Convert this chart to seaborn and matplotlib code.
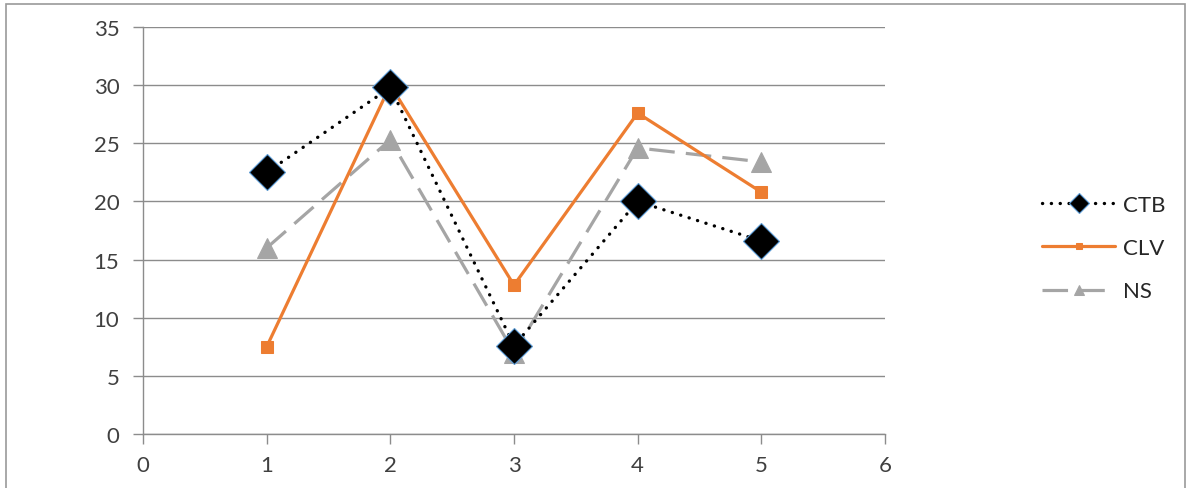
import matplotlib
matplotlib.use("Agg")
import matplotlib.pyplot as plt
from matplotlib.patches import Rectangle
import seaborn as sns
import pandas as pd

# Series values
x_vals = [1, 2, 3, 4, 5]
ctb = [22.5, 29.8, 7.6, 20.0, 16.6]
clv = [7.5, 30.0, 12.8, 27.6, 20.8]
ns = [16.0, 25.3, 7.0, 24.6, 23.4]
series_names = ["CTB", "CLV", "NS"]
x_ticks = [0, 1, 2, 3, 4, 5, 6]
y_ticks = [0, 5, 10, 15, 20, 25, 30, 35]

sns.set_theme(style="white")
plt.rcParams["font.family"] = ["Lato", "DejaVu Sans"]

df = pd.DataFrame({"x": x_vals, "CTB": ctb, "CLV": clv, "NS": ns})

fig = plt.figure(figsize=(11.86, 4.89), dpi=100)
ax = fig.add_axes([143 / 1186, 1 - 435 / 489, (885 - 143) / 1186, (435 - 28) / 489])

grid_col = "#8c8c8c"

# CTB: black round-dot line with large diamonds
sns.lineplot(data=df, x="x", y="CTB", ax=ax, color="black", linewidth=2.4,
             dashes=False, marker="D", markersize=18, markerfacecolor="black",
             markeredgecolor="#5b9bd5", markeredgewidth=0.8, label=series_names[0],
             zorder=5)
line_ctb = ax.lines[-1]
line_ctb.set_linestyle((0, (0.05, 2.6)))
line_ctb.set_dash_capstyle("round")

# CLV: solid orange line with squares
sns.lineplot(data=df, x="x", y="CLV", ax=ax, color="#ED7D31", linewidth=2.3,
             marker="s", markersize=9, markerfacecolor="#ED7D31",
             markeredgecolor="#ED7D31", label=series_names[1], zorder=4)

# NS: long-dash grey line with triangles
sns.lineplot(data=df, x="x", y="NS", ax=ax, color="#A5A5A5", linewidth=2.3,
             marker="^", markersize=14, markerfacecolor="#A5A5A5",
             markeredgecolor="#A5A5A5", label=series_names[2], zorder=3)
ax.lines[-1].set_linestyle((0, (8, 3.5)))

ax.set_xlim(0, 6)
ax.set_ylim(0, 35)
ax.set_xticks(x_ticks)
ax.set_yticks(y_ticks)
ax.set_xlabel("")
ax.set_ylabel("")
ax.yaxis.grid(True, color=grid_col, linewidth=1.0)
ax.xaxis.grid(False)
ax.set_axisbelow(True)

for side in ["top", "right"]:
    ax.spines[side].set_visible(False)
for side in ["left", "bottom"]:
    ax.spines[side].set_color(grid_col)
    ax.spines[side].set_linewidth(1.0)

ax.tick_params(axis="both", which="major", direction="out", length=7, width=1.0,
               color=grid_col, labelsize=16, labelcolor="#404040", pad=10,
               left=True, bottom=True)
ax.tick_params(axis="x", pad=8)

ax.get_legend().remove()
handles, labels = ax.get_legend_handles_labels()
leg = fig.legend(handles, labels, loc="center left",
                 bbox_to_anchor=(1022 / 1186, 1 - 249 / 489),
                 frameon=False, fontsize=16, handlelength=3.3, handletextpad=0.35,
                 labelspacing=1.05, markerscale=0.55)
for t in leg.get_texts():
    t.set_color("#262626")

# Chart frame
fig.patches.append(Rectangle((6 / 1186, -0.02), (1185 - 6) / 1186, 1 - 5 / 489 + 0.02,
                             transform=fig.transFigure, fill=False,
                             edgecolor="#9a9a9a", linewidth=1.2))

fig.savefig("out.png", dpi=100, facecolor="white")
